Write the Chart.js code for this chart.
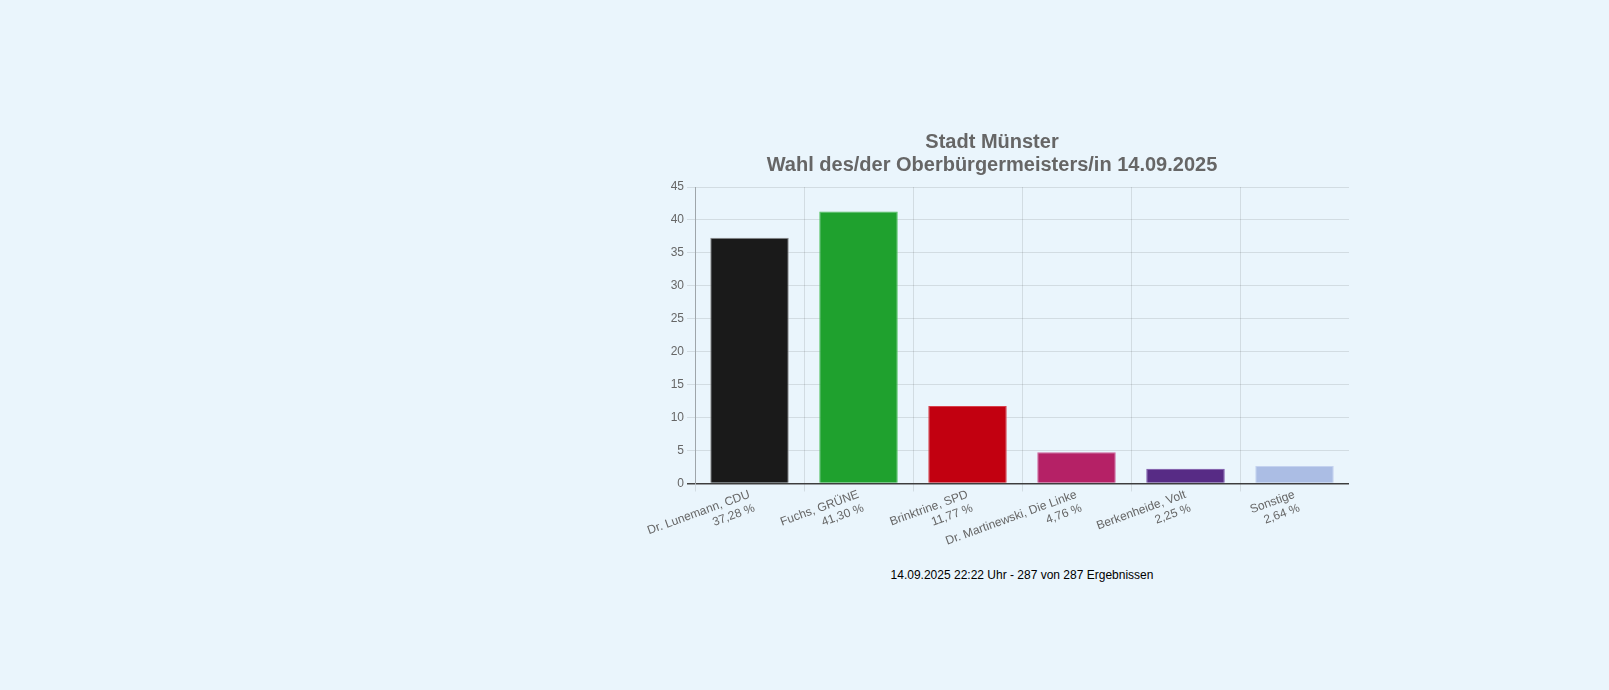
<!DOCTYPE html>
<html>
<head>
<meta charset="utf-8">
<script src="https://cdn.jsdelivr.net/npm/chart.js@4"></script>
<style>
  html, body { margin: 0; padding: 0; background: #eaf5fc; width: 1609px; height: 690px; overflow: hidden; }
  #wrap { position: absolute; left: 635px; top: 124px; width: 714px; height: 434px; }
  #foot { position: absolute; left: 822px; top: 568px; width: 400px; text-align: center;
          font: 12px "Liberation Sans", Arial, sans-serif; color: #000; }
</style>
</head>
<body>
<div id="wrap"><canvas id="wahlChart"></canvas></div>
<div id="foot">14.09.2025 22:22 Uhr - 287 von 287 Ergebnissen</div>
<script>
/* ── Data ── */
const candidates = ['Dr. Lunemann, CDU', 'Fuchs, GRÜNE', 'Brinktrine, SPD', 'Dr. Martinewski, Die Linke', 'Berkenheide, Volt', 'Sonstige'];
const shares     = [37.28, 41.30, 11.77, 4.76, 2.25, 2.64];
const shareText  = ['37,28 %', '41,30 %', '11,77 %', '4,76 %', '2,25 %', '2,64 %'];
const barColors  = ['#1a1a1a', '#1fa12e', '#c20010', '#b52166', '#572b85', '#abbde4'];
const barBorders = ['#8a8a8a', '#4cc05a', '#d8404c', '#d0609a', '#7a52a8', '#c4d2ef'];
const titleLines = ['Stadt Münster', 'Wahl des/der Oberbürgermeisters/in 14.09.2025'];

const FONT = "'Liberation Sans', Arial, sans-serif";

new Chart(document.getElementById('wahlChart'), {
  type: 'bar',
  data: {
    labels: candidates.map((c, i) => [c, shareText[i]]),
    datasets: [{
      data: shares,
      backgroundColor: barColors,
      borderColor: barBorders,
      borderWidth: 1
    }]
  },
  options: {
    responsive: true,
    maintainAspectRatio: false,
    animation: false,
    layout: { padding: 0 },
    plugins: {
      legend: { display: false },
      tooltip: { enabled: false },
      title: {
        display: true,
        text: titleLines,
        color: '#666',
        font: { family: FONT, size: 20, weight: 'bold', lineHeight: 1.15 },
        padding: { top: 7, bottom: 10 }
      }
    },
    scales: {
      x: {
        grid: { color: 'rgba(0,0,0,0.1)', tickLength: 8 },
        border: { color: 'rgba(0,0,0,0.1)' },
        ticks: {
          color: '#666',
          font: { family: FONT, size: 12 },
          minRotation: 20,
          maxRotation: 20,
          autoSkip: false,
          padding: -4
        }
      },
      y: {
        min: 0,
        max: 45,
        afterFit: axis => { axis.width = 60; },
        grid: {
          color: ctx => ctx.tick && ctx.tick.value === 0 ? '#444' : 'rgba(0,0,0,0.1)',
          lineWidth: ctx => ctx.tick && ctx.tick.value === 0 ? 1.5 : 1,
          tickLength: 8
        },
        border: { color: 'rgba(0,0,0,0.25)' },
        ticks: { stepSize: 5, color: '#666', font: { family: FONT, size: 12 } }
      }
    }
  }
});
</script>
</body>
</html>
